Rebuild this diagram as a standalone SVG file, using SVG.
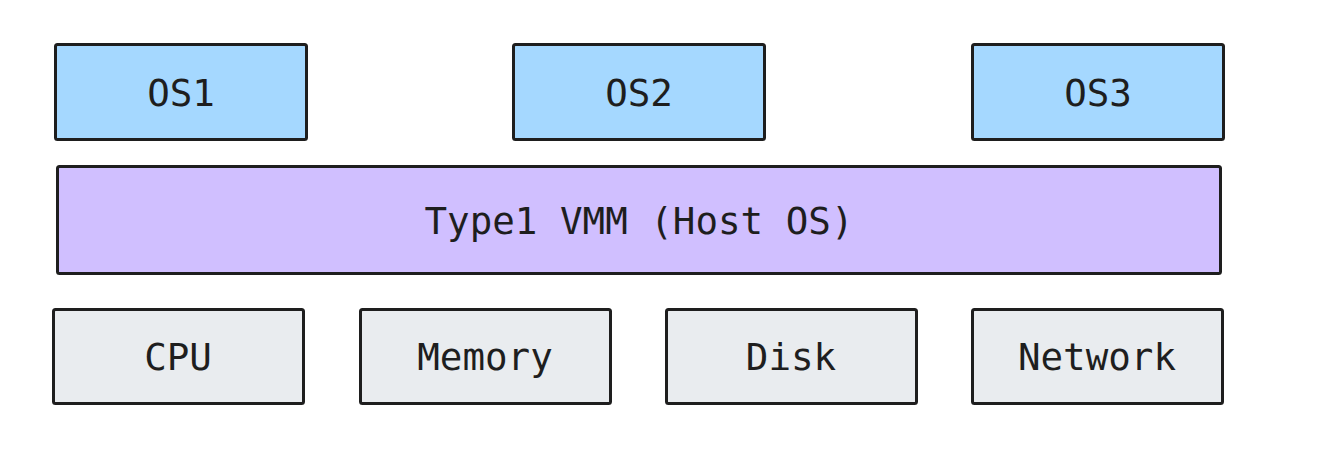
<svg xmlns="http://www.w3.org/2000/svg" width="1329" height="450" viewBox="0 0 1329 450">
<style>
rect{stroke:#1e1e1e;stroke-width:3}
.os{fill:#a5d8ff}
.vmm{fill:#d0bfff}
.hw{fill:#e9ecef}
text{font-family:"DejaVu Sans Mono",monospace;font-size:37.5px;fill:#1e1e1e;text-anchor:middle;dominant-baseline:central}
</style>
<rect width="1329" height="450" fill="#ffffff" style="stroke:none"/>
<g id="os1"><rect class="os" x="55.5" y="44.5" width="251" height="95" rx="2"/><text x="181" y="93">OS1</text></g>
<g id="os2"><rect class="os" x="513.5" y="44.5" width="251" height="95" rx="2"/><text x="639" y="93">OS2</text></g>
<g id="os3"><rect class="os" x="972.5" y="44.5" width="251" height="95" rx="2"/><text x="1098" y="93">OS3</text></g>
<g id="vmm"><rect class="vmm" x="57.5" y="166.5" width="1163" height="107" rx="2"/><text x="639" y="221">Type1 VMM (Host OS)</text></g>
<g id="cpu"><rect class="hw" x="53.5" y="309.5" width="250" height="94" rx="2"/><text x="178" y="357">CPU</text></g>
<g id="memory"><rect class="hw" x="360.5" y="309.5" width="250" height="94" rx="2"/><text x="485" y="357">Memory</text></g>
<g id="disk"><rect class="hw" x="666.5" y="309.5" width="250" height="94" rx="2"/><text x="791" y="357">Disk</text></g>
<g id="network"><rect class="hw" x="972.5" y="309.5" width="250" height="94" rx="2"/><text x="1097" y="357">Network</text></g>
<g id="connectors"></g>
</svg>
